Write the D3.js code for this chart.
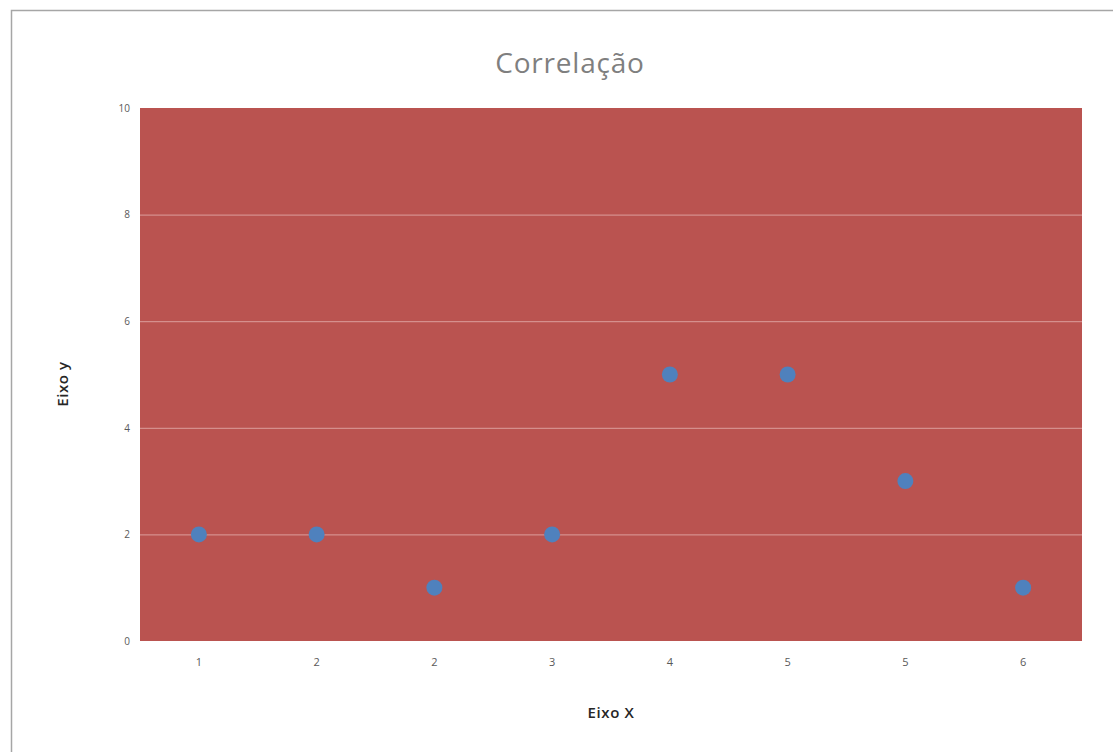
<!DOCTYPE html>
<html>
<head>
<meta charset="utf-8">
<script src="https://cdn.jsdelivr.net/npm/d3@7"></script>
<style>
  body { margin: 0; background: #fff; }
  svg { display: block; }
</style>
</head>
<body>
<svg id="chart" width="1113" height="752"></svg>
<script>
// chart values
const categories = ['1', '2', '2', '3', '4', '5', '5', '6'];
const values = [2, 2, 1, 2, 5, 5, 3, 1];
const yTicks = [0, 2, 4, 6, 8, 10];

const width = 1113, height = 752;
const margin = { top: 108, right: 31, bottom: 111, left: 140 };
const innerW = width - margin.left - margin.right;
const innerH = height - margin.top - margin.bottom;

const svg = d3.select('#chart');

// outer chart border (runs off the bottom/right like the screenshot)
svg.append('rect')
    .attr('x', 11.5).attr('y', 10.5)
    .attr('width', width).attr('height', height)
    .attr('fill', '#fff')
    .attr('stroke', '#a6a6a6')
    .attr('stroke-width', 1.5);

const x = d3.scaleBand().domain(d3.range(categories.length)).range([0, innerW]);
const y = d3.scaleLinear().domain([0, 10]).range([innerH, 0]);

const g = svg.append('g').attr('transform', `translate(${margin.left},${margin.top})`);

g.append('rect')
    .attr('width', innerW).attr('height', innerH)
    .attr('fill', '#ba5350');

// gridlines
g.append('g')
    .selectAll('line')
    .data(yTicks.filter((t) => t > 0 && t < 10))
    .join('line')
    .attr('x1', 0).attr('x2', innerW)
    .attr('y1', (d) => y(d) + 0.5).attr('y2', (d) => y(d) + 0.5)
    .attr('stroke', '#dc9e9c')
    .attr('stroke-width', 1);

// y axis
const yAxis = g.append('g')
    .call(d3.axisLeft(y).tickValues(yTicks).tickSize(0).tickPadding(10));
yAxis.select('.domain').remove();
yAxis.selectAll('text')
    .attr('font-family', 'Open Sans, sans-serif')
    .attr('font-size', 10)
    .attr('fill', '#595959');

// x axis
const xAxis = g.append('g')
    .attr('transform', `translate(0,${innerH})`)
    .call(d3.axisBottom(x).tickFormat((i) => categories[i]).tickSize(0).tickPadding(17));
xAxis.select('.domain').remove();
xAxis.selectAll('text')
    .attr('font-family', 'Open Sans, sans-serif')
    .attr('font-size', 11)
    .attr('fill', '#595959');

// points
g.append('g')
    .selectAll('circle')
    .data(values)
    .join('circle')
    .attr('cx', (d, i) => x(i) + x.bandwidth() / 2)
    .attr('cy', (d) => y(d))
    .attr('r', 8)
    .attr('fill', '#4f81bd');

// titles
svg.append('text')
    .attr('x', 570).attr('y', 73)
    .attr('text-anchor', 'middle')
    .attr('font-family', 'Open Sans, sans-serif')
    .attr('font-size', 28)
    .attr('letter-spacing', 0.8)
    .attr('fill', '#7f7f7f')
    .text('Correlação');

svg.append('text')
    .attr('x', 611).attr('y', 718)
    .attr('text-anchor', 'middle')
    .attr('font-family', 'Open Sans, sans-serif')
    .attr('font-size', 15)
    .attr('font-weight', 600)
    .attr('letter-spacing', 0.6)
    .attr('fill', '#262626')
    .text('Eixo X');

svg.append('text')
    .attr('transform', 'translate(68,384) rotate(-90)')
    .attr('text-anchor', 'middle')
    .attr('font-family', 'Open Sans, sans-serif')
    .attr('font-size', 15)
    .attr('font-weight', 600)
    .attr('letter-spacing', 0.6)
    .attr('fill', '#262626')
    .text('Eixo y');
</script>
</body>
</html>
